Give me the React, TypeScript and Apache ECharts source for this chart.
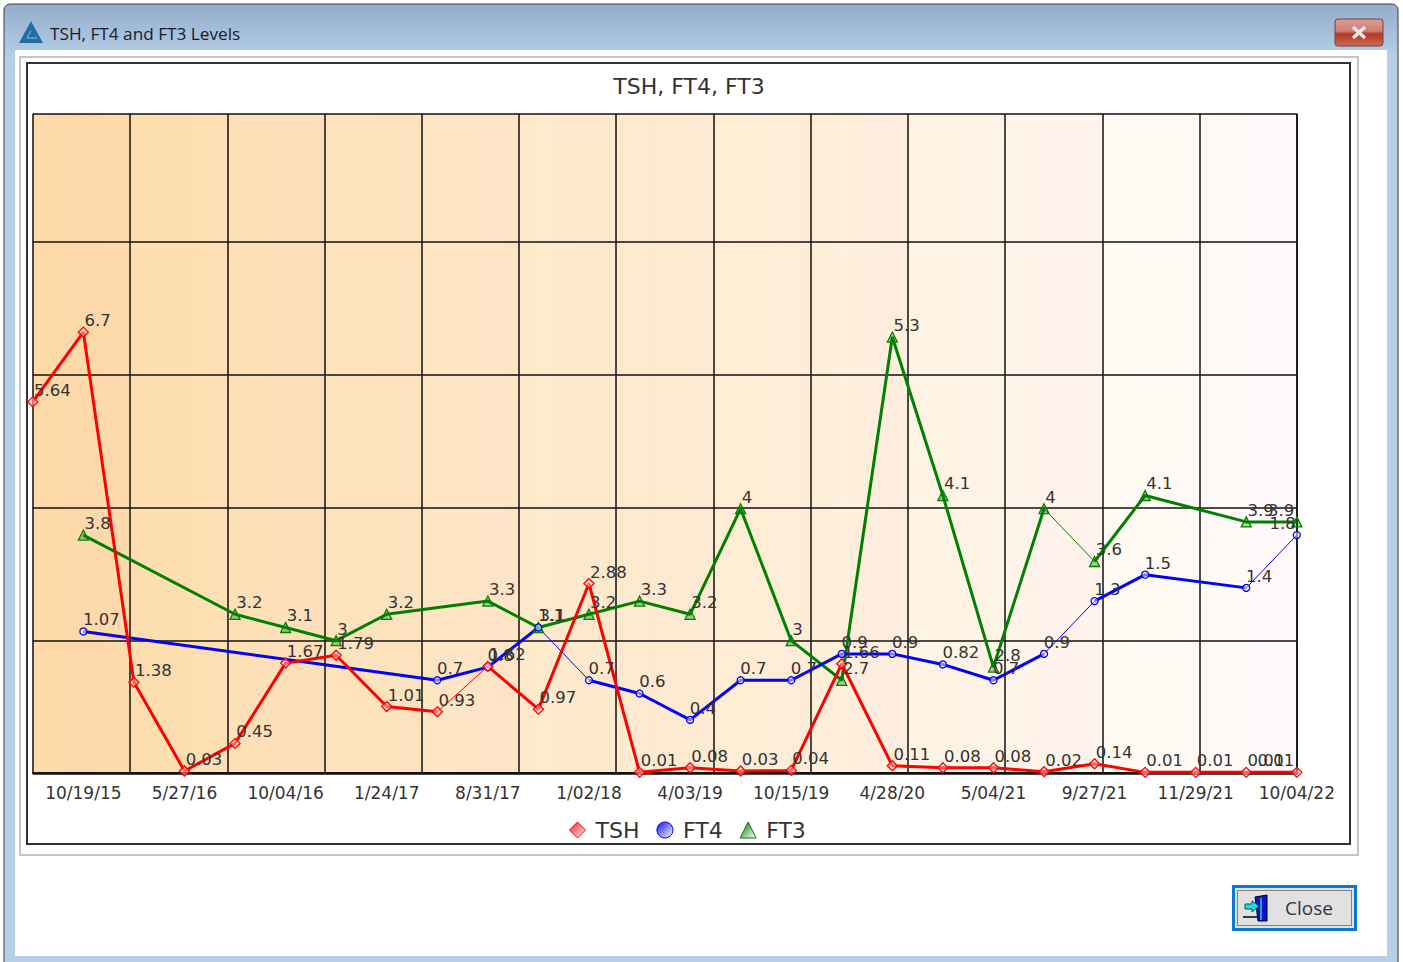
import React, { useEffect, useRef } from "react";
import * as echarts from "echarts";

const tickLabels = ["10/19/15","5/27/16","10/04/16","1/24/17","8/31/17","1/02/18","4/03/19","10/15/19","4/28/20","5/04/21","9/27/21","11/29/21","10/04/22"];
const tsh = [5.64,6.7,1.38,0.03,0.45,1.67,1.79,1.01,0.93,1.62,0.97,2.88,0.01,0.08,0.03,0.04,1.66,0.11,0.08,0.08,0.02,0.14,0.01,0.01,0.01,0.01];
const ft4 = [null,1.07,null,null,null,null,null,null,0.7,0.8,1.1,0.7,0.6,0.4,0.7,0.7,0.9,0.9,0.82,0.7,0.9,1.3,1.5,null,1.4,1.8];
const ft3 = [null,3.8,null,null,3.2,3.1,3,3.2,null,3.3,3.1,3.2,3.3,3.2,4,3,2.7,5.3,4.1,2.8,4,3.6,4.1,null,3.9,3.9];
const thinTsh = [8];
const thinFt4 = [10,20,24];
const thinFt3 = [20];
const bandColors = [
  ["#fedaa8","#fdd9ac"],["#fedeae","#fddfb3"],["#fde0b6","#fddfbc"],["#fee3bc","#fde2c0"],["#fee5c2","#fde4c8"],
  ["#feeacb","#fee9ce"],["#feeacf","#fee9d3"],["#ffedd3","#ffecd8"],["#ffefd9","#ffeedf"],["#fff3e4","#fff3e6"],
  ["#fff4ea","#fff3ed"],["#fffaf2","#fffaf5"],["#fffaf8","#fffafa"],
];

const FONT = "DejaVu Sans";
const categories = tsh.map((_, i) => (i % 2 === 1 ? tickLabels[(i - 1) / 2] : " ".repeat(i + 1)));
const bandStops = bandColors.flatMap(([a, b], i) => [
  { offset: i / 13, color: a },
  { offset: (i + 1) / 13, color: b },
]);

function thickRuns(values: (number | null)[], thinStarts: number[]) {
  const idx = values.map((v, i) => (v == null ? -1 : i)).filter((i) => i >= 0);
  const runs: (number | null)[][] = [];
  let cur: number[] = [idx[0]];
  for (let k = 0; k < idx.length - 1; k++) {
    if (thinStarts.includes(idx[k])) {
      runs.push(cur);
      cur = [idx[k + 1]];
    } else cur.push(idx[k + 1]);
  }
  runs.push(cur);
  return runs
    .filter((r) => r.length > 1)
    .map((r) => values.map((v, i) => (r.includes(i) ? v : null)));
}

function build(name: string, values: (number | null)[], thin: number[], yAxisIndex: number, color: string, symbol: string, size: number, fill: string) {
  const thick = thickRuns(values, thin).map((data, i) => ({
    type: "line", name: name + " run " + i, xAxisIndex: 0, yAxisIndex, data, connectNulls: true, clip: false,
    showSymbol: false, symbol: "none", silent: true, lineStyle: { color, width: 3 }, itemStyle: { color }, label: { show: false },
  }));
  const last = values.length - 1;
  const base = {
    type: "line", name, xAxisIndex: 0, yAxisIndex, connectNulls: true, clip: false, showSymbol: true, showAllSymbol: true,
    data: values.map((v, i) => (i === last ? { value: v, label: { position: "left", distance: 0, offset: [3, -11.5] } } : v)),
    symbol, symbolSize: size, lineStyle: { color, width: 1 },
    itemStyle: { color: fill, borderColor: color, borderWidth: 1.3 },
    label: { show: true, position: "right", distance: 0, offset: [-4.5, -11.5], color: "#333", fontFamily: FONT, fontSize: 16.5 },
  };
  return [...thick, base];
}

const grad = (c: string) => new echarts.graphic.LinearGradient(0, 0, 1, 1, [{ offset: 0, color: c }, { offset: 1, color: "#ffffff" }]);
const rect = (x: number, y: number, w: number, h: number, style: any, r = 0) => ({ type: "rect", z: -10, shape: { x, y, width: w, height: h, r }, style });

export default function App() {
  const ref = useRef<HTMLDivElement>(null);
  useEffect(() => {
    document.body.style.margin = "0";
    const chart = echarts.init(ref.current!, undefined, { renderer: "svg" });
    chart.setOption({
      animation: false,
      backgroundColor: "#ffffff",
      title: {
        text: "TSH, FT4, FT3", left: 684, top: 70, textAlign: "center",
        textStyle: { fontFamily: FONT, fontSize: 22, fontWeight: "normal", color: "#333" },
      },
      legend: {
        left: 564, top: 814, itemWidth: 16, itemHeight: 16, itemGap: 17,
        textStyle: { fontFamily: FONT, fontSize: 22, color: "#333", padding: [0, 0, 0, 5] },
        data: [
          { name: "TSH", icon: "diamond", itemStyle: { color: grad("#ff1010"), borderColor: "#ff0000", borderWidth: 1 } },
          { name: "FT4", icon: "circle", itemStyle: { color: grad("#1010ff"), borderColor: "#0000ff", borderWidth: 1 } },
          { name: "FT3", icon: "triangle", itemStyle: { color: grad("#087808"), borderColor: "#008000", borderWidth: 1 } },
        ],
      },
      grid: {
        left: 32.8, top: 114, width: 1264, height: 660, show: true, borderWidth: 0,
        backgroundColor: new echarts.graphic.LinearGradient(0, 0, 1, 0, bandStops),
      },
      xAxis: [
        {
          type: "category", data: categories, boundaryGap: false,
          axisTick: { show: false }, splitLine: { show: false },
          axisLine: { show: true, lineStyle: { color: "#111", width: 2 } },
          axisLabel: { interval: (i: number) => i % 2 === 1, margin: 10, color: "#333", fontFamily: FONT, fontSize: 17, showMaxLabel: true, hideOverlap: false },
        },
        {
          type: "value", min: 0, max: 13, interval: 1, position: "top", show: true,
          axisLabel: { show: false }, axisTick: { show: false },
          axisLine: { show: true, lineStyle: { color: "#111", width: 1.5 } },
          splitLine: { show: true, lineStyle: { color: "#111", width: 1.5 } },
        },
      ],
      yAxis: [
        { type: "value", min: -0.015, max: 10.015, show: false, splitLine: { show: false } },
        { type: "value", min: -0.01, max: 4.99, show: false, splitLine: { show: false } },
        { type: "value", min: 1.99, max: 6.99, show: false, splitLine: { show: false } },
        {
          type: "value", min: 0, max: 4.962, interval: 1, axisLabel: { show: false }, axisTick: { show: false },
          axisLine: { show: true, lineStyle: { color: "#111", width: 1.5 } },
          splitLine: { show: true, lineStyle: { color: "#111", width: 1.5 } },
        },
      ],
      series: [
        ...build("FT3", ft3, thinFt3, 2, "#008000", "triangle", 10, "rgba(0,128,0,0.35)"),
        ...build("FT4", ft4, thinFt4, 1, "#0000ff", "circle", 7, "rgba(255,255,255,0.5)"),
        ...build("TSH", tsh, thinTsh, 0, "#ff0000", "diamond", 10, "rgba(255,200,200,0.5)"),
      ],
      graphic: {
        elements: [
          rect(4, 4, 1394, 964, {
            fill: new echarts.graphic.LinearGradient(0, 0, 0, 0.055, [{ offset: 0, color: "#93aecb" }, { offset: 1, color: "#b6cee7" }]),
            stroke: "#3c3c3c", lineWidth: 1,
          }, 6),
          rect(15, 50, 1372, 906, { fill: "#ffffff" }),
          rect(20, 57, 1338, 798, { fill: "#ffffff", stroke: "#c4c4c4", lineWidth: 2 }),
          rect(27, 63, 1323, 781, { fill: "#ffffff", stroke: "#333333", lineWidth: 2 }),
          { type: "polygon", z: -9, shape: { points: [[31, 21], [43, 43], [19, 43]] }, style: { fill: "#1f6fa0" } },
          { type: "line", z: -9, shape: { x1: 31, y1: 31, x2: 27, y2: 38 }, style: { stroke: "#9fbcd8", lineWidth: 1 } },
          { type: "line", z: -9, shape: { x1: 27, y1: 38, x2: 37, y2: 38 }, style: { stroke: "#9fbcd8", lineWidth: 1 } },
          { type: "text", z: -9, style: { text: "TSH, FT4 and FT3 Levels", x: 50, y: 33, verticalAlign: "middle", fill: "#1a1a2a", fontFamily: "Open Sans", fontSize: 17.2 } },
          rect(1335, 19, 48, 27, {
            fill: new echarts.graphic.LinearGradient(0, 0, 0, 1, [
              { offset: 0, color: "#dd9d90" }, { offset: 0.45, color: "#cf7e70" }, { offset: 0.55, color: "#b03a26" }, { offset: 1, color: "#cc6a55" },
            ]),
            stroke: "#70404a", lineWidth: 1,
          }, 3),
          { type: "line", z: -9, shape: { x1: 1353, y1: 27, x2: 1365, y2: 38 }, style: { stroke: "#e8e8e8", lineWidth: 3.5 } },
          { type: "line", z: -9, shape: { x1: 1365, y1: 27, x2: 1353, y2: 38 }, style: { stroke: "#e8e8e8", lineWidth: 3.5 } },
          rect(1233.5, 886.5, 122, 43, { fill: "#e1e1e1", stroke: "#0a78d7", lineWidth: 3 }),
          rect(1237.5, 890.5, 114, 35, { fill: "#e1e1e1", stroke: "#222", lineWidth: 1, lineDash: [1, 1] }),
          { type: "polygon", z: -9, shape: { points: [[1255, 897], [1267, 895], [1267, 921], [1258, 921]] }, style: { fill: "#1010d0", stroke: "#000", lineWidth: 1 } },
          { type: "polygon", z: -9, shape: { points: [[1245, 904], [1252, 904], [1252, 901], [1259, 906], [1252, 912], [1252, 909], [1245, 909]] }, style: { fill: "#20e0e0", stroke: "#105050", lineWidth: 1 } },
          { type: "line", z: -9, shape: { x1: 1243, y1: 917, x2: 1258, y2: 917 }, style: { stroke: "#000", lineWidth: 1.5 } },
          { type: "line", z: -9, shape: { x1: 1261, y1: 898, x2: 1261, y2: 920 }, style: { stroke: "#20d0d0", lineWidth: 1.5 } },
          { type: "text", z: -9, style: { text: "Close", x: 1285, y: 908, verticalAlign: "middle", fill: "#33334a", fontFamily: "Open Sans", fontSize: 19 } },
        ],
      },
    });
    return () => chart.dispose();
  }, []);
  return <div ref={ref} style={{ position: "fixed", left: 0, top: 0, width: 1403, height: 962, overflow: "hidden" }} />;
}
